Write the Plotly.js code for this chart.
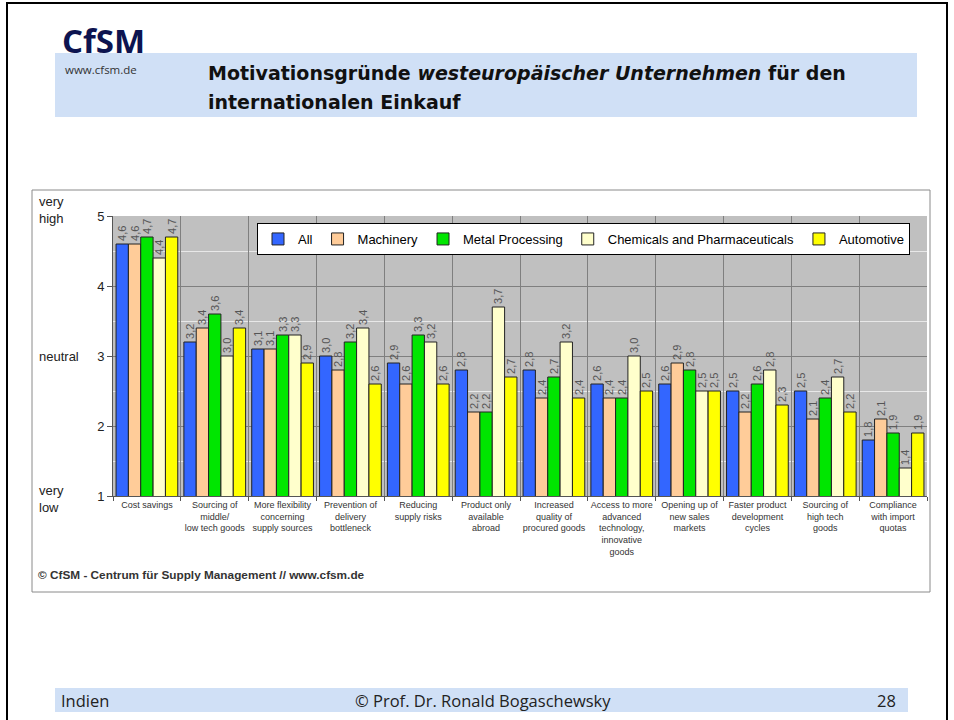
<!DOCTYPE html>
<html>
<head>
<meta charset="utf-8">
<script src="https://cdn.plot.ly/plotly-3.0.1.min.js"></script>
<style>
html,body{margin:0;padding:0;background:#fff;}
#chart{width:954px;height:720px;}
</style>
</head>
<body>
<div id="chart"></div>
<script>
// ---- data ----
const categories = [
  "Cost savings",
  "Sourcing of<br>middle/<br>low tech goods",
  "More flexibility<br>concerning<br>supply sources",
  "Prevention of<br>delivery<br>bottleneck",
  "Reducing<br>supply risks",
  "Product only<br>available<br>abroad",
  "Increased<br>quality of<br>procured goods",
  "Access to more<br>advanced<br>technology,<br>innovative<br>goods",
  "Opening up of<br>new sales<br>markets",
  "Faster product<br>development<br>cycles",
  "Sourcing of<br>high tech<br>goods",
  "Compliance<br>with import<br>quotas"
];
const seriesNames = ["All", "Machinery", "Metal Processing", "Chemicals and Pharmaceuticals", "Automotive"];
const allValues        = [4.6, 3.2, 3.1, 3.0, 2.9, 2.8, 2.8, 2.6, 2.6, 2.5, 2.5, 1.8];
const machineryValues  = [4.6, 3.4, 3.1, 2.8, 2.6, 2.2, 2.4, 2.4, 2.9, 2.2, 2.1, 2.1];
const metalValues      = [4.7, 3.6, 3.3, 3.2, 3.3, 2.2, 2.7, 2.4, 2.8, 2.6, 2.4, 1.9];
const chemicalsValues  = [4.4, 3.0, 3.3, 3.4, 3.2, 3.7, 3.2, 3.0, 2.5, 2.8, 2.7, 1.4];
const automotiveValues = [4.7, 3.4, 2.9, 2.6, 2.6, 2.7, 2.4, 2.5, 2.5, 2.3, 2.2, 1.9];
const yTickValues = [1, 2, 3, 4, 5];
const yTickLabels = ["1", "2", "3", "4", "5"];

const seriesValues = [allValues, machineryValues, metalValues, chemicalsValues, automotiveValues];
const seriesColors = ["#3366FF", "#FFCC99", "#00E600", "#FFFFCC", "#FFFF00"];

// ---- geometry helpers (pixel -> paper) ----
const PL = 113, PR = 927, PT = 216, PB = 496;
const X = px => (px - PL) / (PR - PL);
const Y = py => (PB - py) / (PB - PT);

const ARIAL = "Arial, 'Liberation Sans', sans-serif";
const SANS = "'Open Sans', 'Noto Sans', sans-serif";
const WIDE = "'DejaVu Sans', 'Open Sans', sans-serif";

const traces = seriesNames.map((name, i) => ({
  type: "bar",
  name: name,
  x: categories,
  y: seriesValues[i],
  marker: {color: seriesColors[i], line: {color: "#222", width: 1}},
  texttemplate: "%{y:.1f}",
  textposition: "outside",
  textangle: -90,
  constraintext: "none",
  cliponaxis: false,
  textfont: {family: ARIAL, size: 11, color: "#555"},
  hoverinfo: "skip"
}));

const shapes = [
  // slide frame
  {type: "rect", xref: "paper", yref: "paper", x0: X(7), x1: X(947), y0: Y(3), y1: Y(760),
   line: {color: "#000", width: 2}, fillcolor: "rgba(0,0,0,0)", layer: "below"},
  // title band
  {type: "rect", xref: "paper", yref: "paper", x0: X(55), x1: X(917), y0: Y(53), y1: Y(117),
   line: {width: 0}, fillcolor: "#D0E0F6", layer: "below"},
  // footer band
  {type: "rect", xref: "paper", yref: "paper", x0: X(55), x1: X(908), y0: Y(688), y1: Y(712),
   line: {width: 0}, fillcolor: "#D0E0F6", layer: "below"},
  // chart box outline
  {type: "rect", xref: "paper", yref: "paper", x0: X(32), x1: X(930), y0: Y(190), y1: Y(592),
   line: {color: "#8a8a8a", width: 1}, fillcolor: "rgba(0,0,0,0)", layer: "below"}
];

const ann = (px, py, text, opts) => Object.assign({
  xref: "paper", yref: "paper", x: X(px), y: Y(py), text: text, showarrow: false,
  xanchor: "left", yanchor: "middle"
}, opts || {});

const annotations = [
  ann(60, 40, "<b>CfSM</b>", {font: {family: SANS, size: 33, color: "#0D1450"}}),
  ann(63, 69, "www.cfsm.de", {font: {family: SANS, size: 11.5, color: "#333"}}),
  ann(206, 73, "<b>Motivationsgründe <i>westeuropäischer Unternehmen</i> für den</b>", {font: {family: WIDE, size: 19, color: "#111"}}),
  ann(206, 102, "<b>internationalen Einkauf</b>", {font: {family: WIDE, size: 19, color: "#111"}}),
  ann(37, 210, "very<br>high", {align: "left", font: {family: ARIAL, size: 13, color: "#222"}}),
  ann(37, 356, "neutral", {font: {family: ARIAL, size: 13, color: "#222"}}),
  ann(37, 499, "very<br>low", {align: "left", font: {family: ARIAL, size: 13, color: "#222"}}),
  ann(36, 575, "<b>© CfSM - Centrum für Supply Management // www.cfsm.de</b>", {font: {family: ARIAL, size: 11.8, color: "#333"}}),
  ann(59, 700, "Indien", {font: {family: SANS, size: 16.5, color: "#222"}}),
  ann(483, 700, "© Prof. Dr. Ronald Bogaschewsky", {xanchor: "center", font: {family: SANS, size: 16.5, color: "#222"}}),
  ann(898, 700, "28", {xanchor: "right", font: {family: SANS, size: 16.5, color: "#222"}})
];

const layout = {
  width: 954, height: 720,
  margin: {l: PL, r: 954 - PR, t: PT, b: 720 - PB, pad: 0},
  paper_bgcolor: "#fff",
  plot_bgcolor: "#C0C0C0",
  separators: ",.",
  barmode: "group",
  bargap: 0.09,
  bargroupgap: 0,
  showlegend: true,
  legend: {
    orientation: "h", x: X(910), xanchor: "right", y: Y(223), yanchor: "top",
    bgcolor: "#fff", bordercolor: "#000", borderwidth: 1,
    font: {family: ARIAL, size: 13, color: "#000"},
    itemwidth: 30,
    traceorder: "normal"
  },
  xaxis: {
    type: "category", tickson: "boundaries", showgrid: true, gridcolor: "#7f7f7f", gridwidth: 1,
    ticks: "outside", ticklen: 4, tickcolor: "#555", showline: true, linecolor: "#555",
    tickangle: 0, tickfont: {family: ARIAL, size: 9, color: "#333"}, fixedrange: true
  },
  yaxis: {
    range: [1, 5], tickvals: yTickValues, ticktext: yTickLabels, showgrid: true,
    gridcolor: "#7f7f7f", gridwidth: 1, zeroline: false,
    minor: {dtick: 0.5, showgrid: true, gridcolor: "#E8E8E8", gridwidth: 1},
    ticks: "outside", ticklen: 5, tickcolor: "#555", showline: true, linecolor: "#555",
    tickfont: {family: ARIAL, size: 13, color: "#222"}, fixedrange: true
  },
  shapes: shapes,
  annotations: annotations,
  font: {family: ARIAL}
};

Plotly.newPlot("chart", traces, layout, {displayModeBar: false, staticPlot: true});
</script>
</body>
</html>
